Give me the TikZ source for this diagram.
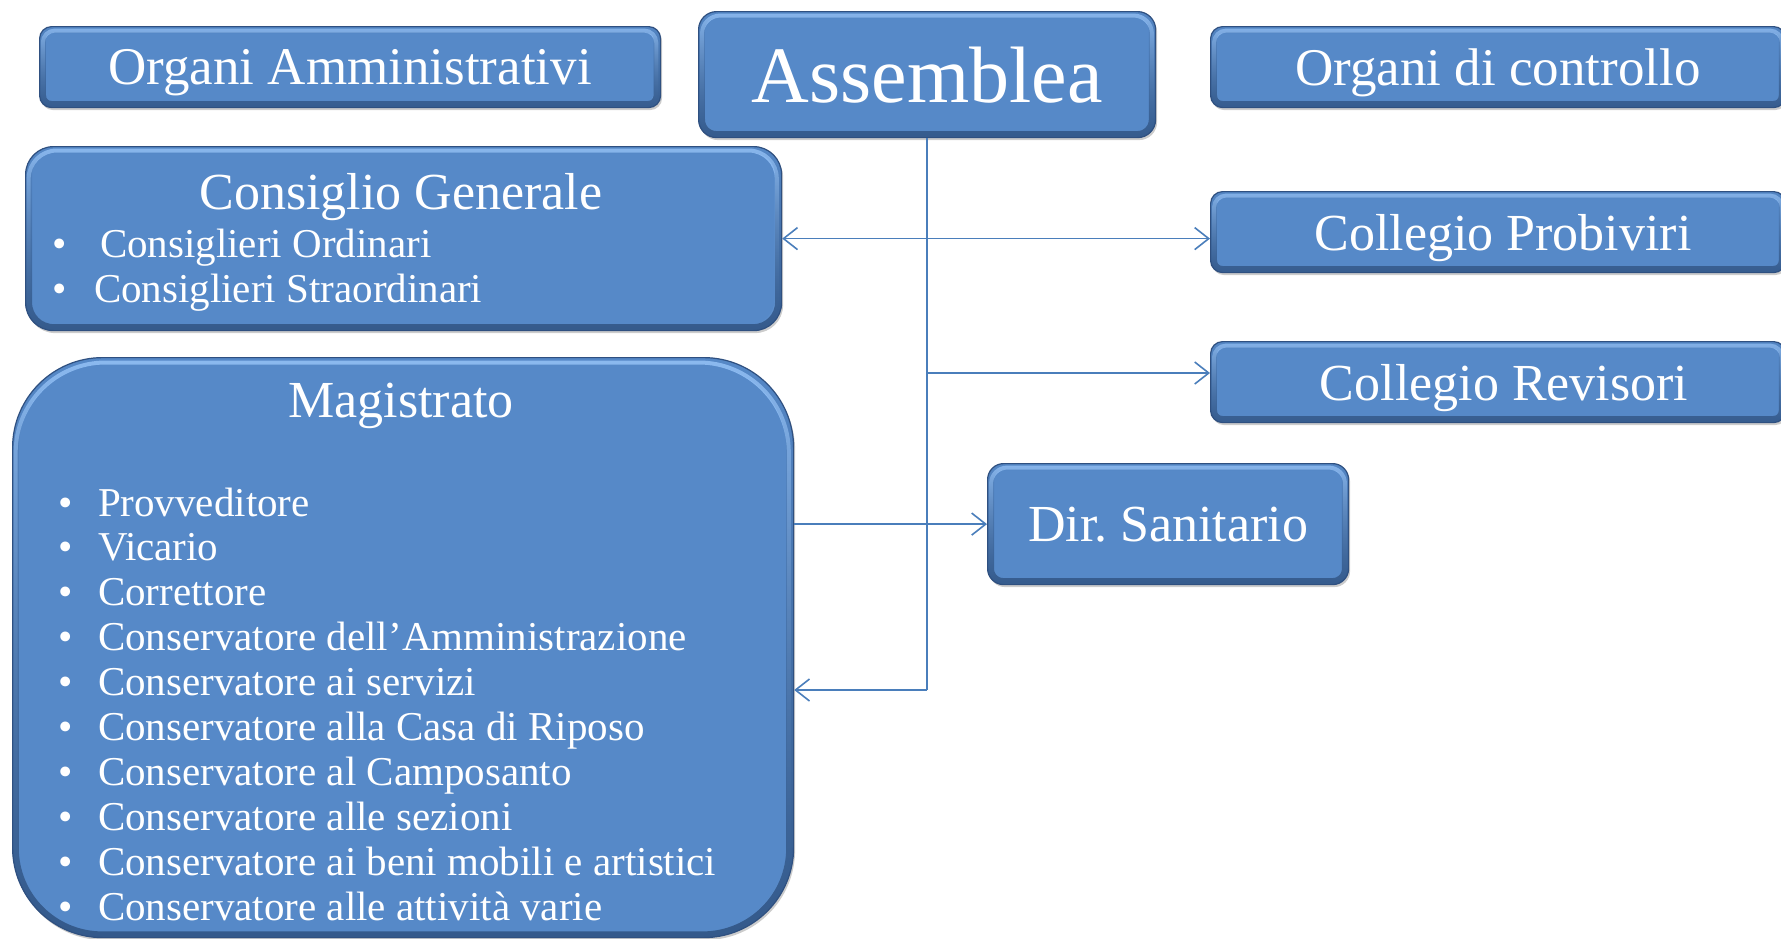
\documentclass[tikz,border=0pt]{standalone}
\usepackage{fontspec}
\setmainfont{Liberation Serif}
\usetikzlibrary{arrows.meta,shadows,fadings,calc}
\definecolor{boxblue}{HTML}{5689C8}
\definecolor{boxedge}{HTML}{2F5080}
\definecolor{boxdark}{HTML}{34598A}
\definecolor{boxlight}{HTML}{8EBCF2}
\definecolor{linecol}{HTML}{4A7EBB}
\newcommand\fsz[1]{\fontsize{#1}{#1}\selectfont}
\tikzfading[name=topfade, top color=transparent!0, middle color=transparent!100, bottom color=transparent!100]
\tikzfading[name=botfade, top color=transparent!100, middle color=transparent!100, bottom color=transparent!0]
\tikzset{
  bev/.style={rectangle, rounded corners=#1, fill=boxblue, draw=boxedge, line width=1.2pt,
    inner sep=0pt, text=white, text depth=0pt, anchor=north west,
    general shadow={fill=black, opacity=0.2, shadow xshift=1.5pt, shadow yshift=-2.5pt},
    path picture={
      \draw[boxlight, line width=4pt, rounded corners=#1, path fading=topfade]
        ([shift={(3.5pt,3.5pt)}]path picture bounding box.south west) rectangle
        ([shift={(-3.5pt,-4pt)}]path picture bounding box.north east);
      \draw[boxdark, line width=13pt, rounded corners=#1, path fading=botfade]
        (path picture bounding box.south west) rectangle
        (path picture bounding box.north east);
    }},
  txt/.style={text=white, inner sep=0pt, outer sep=0pt},
  conn/.style={draw=linecol, line width=1.6pt},
  barb/.tip={Straight Barb[length=14pt,width=22pt,line width=1.6pt]},
}
\begin{document}
\begin{tikzpicture}[x=1pt,y=-1pt]
\useasboundingbox (0,0) rectangle (1781,938);
\fill[white] (0,0) rectangle (1781,938);
\clip (0,0) rectangle (1781,938);

% boxes
\node[bev=12pt, minimum width=621pt, minimum height=81pt, font=\fsz{53}] (orgAmm) at (39,26) {Organi Amministrativi};
\node[bev=18pt, minimum width=457pt, minimum height=126pt, font=\fsz{80}] (assemblea) at (698,11) {Assemblea};
\node[bev=12pt, minimum width=575pt, minimum height=81pt, font=\fsz{53}] (orgCtrl) at (1210,26) {Organi di controllo};
\node[bev=28pt, minimum width=756pt, minimum height=184pt] (consiglio) at (25,146) {};
\node[bev=12pt, minimum width=575pt, minimum height=81pt, font=\fsz{52}] (probiviri) at (1210,191) {\hspace*{10pt}Collegio Probiviri};
\node[bev=12pt, minimum width=575pt, minimum height=81pt, font=\fsz{52}] (revisori) at (1210,341) {\hspace*{12pt}Collegio Revisori};
\node[bev=90pt, minimum width=781pt, minimum height=580pt] (magistrato) at (12,357) {};
\node[bev=16pt, minimum width=361pt, minimum height=121pt, font=\fsz{52}] (dirsan) at (987,463) {Dir.\ Sanitario};

% Consiglio Generale text
\node[txt, anchor=base, font=\fsz{52}] (cgTitle) at (401,209) {Consiglio Generale};
\node[txt, anchor=base, font=\fsz{41}] (cgB1) at (60,257) {\textbullet};
\node[txt, anchor=base west, font=\fsz{41}] (cg1) at (100,257) {Consiglieri Ordinari};
\node[txt, anchor=base, font=\fsz{41}] (cgB2) at (60,302) {\textbullet};
\node[txt, anchor=base west, font=\fsz{41}] (cg2) at (94,302) {Consiglieri Straordinari};

% Magistrato text
\node[txt, anchor=base, font=\fsz{52}] (mgTitle) at (401,417) {Magistrato};
\foreach \t [count=\i] in {Provveditore, Vicario, Correttore, Conservatore dell’Amministrazione, Conservatore ai servizi, Conservatore alla Casa di Riposo, Conservatore al Camposanto, Conservatore alle sezioni, Conservatore ai beni mobili e artistici, Conservatore alle attività varie}{
  \node[txt, anchor=base, font=\fsz{41}] (mgB\i) at (66,{516+44.93*(\i-1)}) {\textbullet};
  \node[txt, anchor=base west, font=\fsz{41}] (mg\i) at (98,{516+44.93*(\i-1)}) {\t};
}

% connectors
\coordinate (trunkBot) at (assemblea.south |- 0,690);
\coordinate (brRev) at (assemblea.south |- 0,373);
\draw[conn] (assemblea.south) -- (trunkBot);
\draw[conn, barb-barb] (consiglio.east) -- (consiglio.east -| probiviri.west);
\draw[conn, -barb] (brRev) -- (brRev -| revisori.west);
\draw[conn, -barb] (dirsan.west -| magistrato.east) -- (dirsan.west);
\draw[conn, -barb] (trunkBot) -- (trunkBot -| magistrato.east);
\end{tikzpicture}
\end{document}
